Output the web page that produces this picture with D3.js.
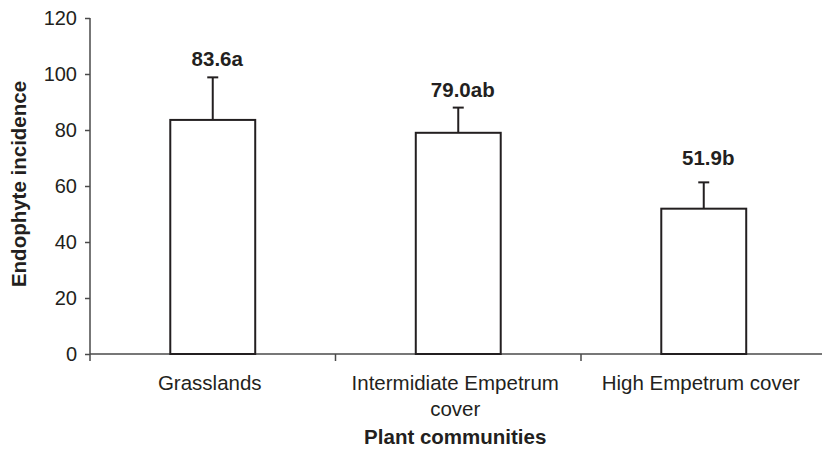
<!DOCTYPE html>
<html>
<head>
<meta charset="utf-8">
<script src="https://cdn.jsdelivr.net/npm/d3@7"></script>
<style>
  html, body { margin: 0; padding: 0; background: #fff; }
  svg { display: block; font-family: "Liberation Sans", Arial, Helvetica, sans-serif; }
</style>
</head>
<body>
<svg id="chart" width="822" height="449"></svg>
<script>
// ---- data ----
const categories = ["Grasslands", "Intermidiate Empetrum cover", "High Empetrum cover"];
const means = [83.6, 79.0, 51.9];
const errors = [15.2, 9.0, 9.4];
const letters = ["a", "ab", "b"];
const yTicks = [0, 20, 40, 60, 80, 100, 120];
const yTitle = "Endophyte incidence";
const xTitle = "Plant communities";

// ---- layout ----
const svg = d3.select("#chart");
const ink = "#231f20";
const axisCol = "#4a4a4a";
const mLeft = 90, mRight = 826.5, mTop = 18, mBottom = 354;

const x = d3.scaleBand().domain(categories).range([mLeft, mRight]).padding(0);
const y = d3.scaleLinear().domain([0, 120]).range([mBottom, mTop]);
const barW = x.bandwidth() * 0.346;

// y axis
const yAxis = d3.axisLeft(y).tickValues(yTicks).tickSize(5).tickPadding(8).tickFormat(d3.format("d"));
const gy = svg.append("g").attr("transform", `translate(${mLeft},0)`).call(yAxis);
gy.select(".domain").remove();
gy.selectAll(".tick line").attr("stroke", axisCol).attr("stroke-width", 1.5);
gy.selectAll(".tick text").attr("fill", ink).style("font-size", "20px")
  .style("font-family", "'Liberation Sans', Arial, sans-serif");
svg.append("line").attr("x1", mLeft).attr("x2", mLeft).attr("y1", y(120)).attr("y2", mBottom + 7)
  .attr("stroke", axisCol).attr("stroke-width", 1.5);

// x axis line and category boundary ticks
svg.append("line").attr("x1", mLeft).attr("x2", 822).attr("y1", mBottom).attr("y2", mBottom)
  .attr("stroke", axisCol).attr("stroke-width", 1.5);
const bounds = categories.map(c => x(c) + x.bandwidth()).slice(0, -1);
svg.selectAll(".ctick").data(bounds).enter().append("line")
  .attr("x1", d => d).attr("x2", d => d).attr("y1", mBottom).attr("y2", mBottom + 7)
  .attr("stroke", axisCol).attr("stroke-width", 1.5);

// bars
const cx = c => x(c) + x.bandwidth() / 2;
svg.selectAll(".bar").data(categories).enter().append("rect")
  .attr("x", c => cx(c) - barW / 2)
  .attr("y", (c, i) => y(means[i]))
  .attr("width", barW)
  .attr("height", (c, i) => mBottom - y(means[i]))
  .attr("fill", "#fff").attr("stroke", ink).attr("stroke-width", 2);

// error bars
svg.selectAll(".err").data(categories).enter().append("line")
  .attr("x1", cx).attr("x2", cx)
  .attr("y1", (c, i) => y(means[i]))
  .attr("y2", (c, i) => y(means[i] + errors[i]))
  .attr("stroke", ink).attr("stroke-width", 2);
svg.selectAll(".cap").data(categories).enter().append("line")
  .attr("x1", c => cx(c) - 5.5).attr("x2", c => cx(c) + 5.5)
  .attr("y1", (c, i) => y(means[i] + errors[i]))
  .attr("y2", (c, i) => y(means[i] + errors[i]))
  .attr("stroke", ink).attr("stroke-width", 2);

// value labels
svg.selectAll(".val").data(categories).enter().append("text")
  .attr("x", c => cx(c) + 4.5)
  .attr("y", (c, i) => y(means[i] + errors[i]) - 11 - (i === 2 ? 6 : 0))
  .attr("text-anchor", "middle")
  .attr("fill", ink).style("font-size", "20.5px").style("font-weight", "bold")
  .text((c, i) => means[i].toFixed(1) + letters[i]);

// category labels with wrapping
svg.selectAll(".cat").data(categories).enter().append("text")
  .attr("text-anchor", "middle").attr("fill", ink).style("font-size", "20.5px")
  .each(function(c) {
    const t = d3.select(this);
    const words = c.split(" ");
    const maxW = x.bandwidth() - 10;
    let lines = [], cur = [];
    const probe = t.append("tspan");
    words.forEach(w => {
      const test = cur.concat([w]).join(" ");
      probe.text(test);
      if (probe.node().getComputedTextLength() > maxW && cur.length) {
        lines.push(cur.join(" ")); cur = [w];
      } else cur.push(w);
    });
    lines.push(cur.join(" "));
    probe.remove();
    lines.forEach((ln, k) => {
      t.append("tspan").attr("x", cx(c) - 3).attr("y", 390 + k * 26).text(ln);
    });
  });

// axis titles
svg.append("text").attr("x", (mLeft + mRight) / 2 - 3).attr("y", 444)
  .attr("text-anchor", "middle").attr("fill", ink)
  .style("font-size", "20.5px").style("font-weight", "bold").text(xTitle);
svg.append("text").attr("transform", `translate(26,${(mTop + mBottom) / 2 - 2}) rotate(-90)`)
  .attr("text-anchor", "middle").attr("fill", ink)
  .style("font-size", "20.5px").style("font-weight", "bold").text(yTitle);
</script>
</body>
</html>
